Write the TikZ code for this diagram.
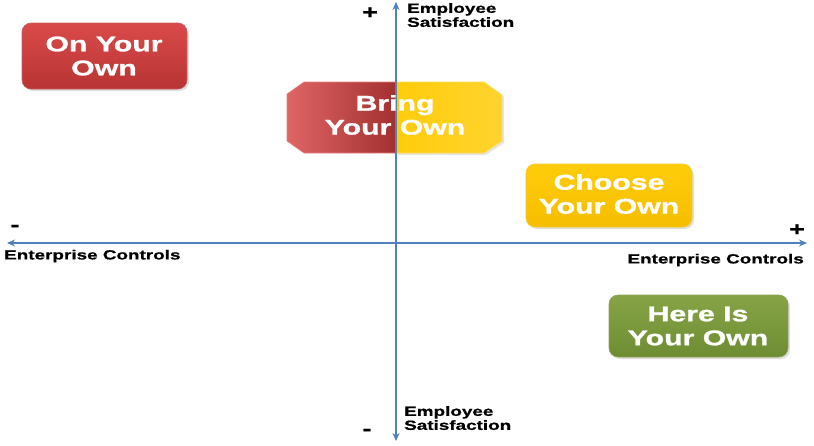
\documentclass[tikz,border=0pt]{standalone}
\usepackage{fontspec}
\newfontfamily\widefont{Liberation Sans}[FakeStretch=1.42,FakeBold=1.2]
\newfontfamily\labelfont{Liberation Sans}[FakeStretch=1.42,FakeBold=0.8]
\definecolor{axisblue}{HTML}{4F81BD}
\definecolor{redtop}{HTML}{DA4A4A}
\definecolor{redbot}{HTML}{B83434}
\definecolor{reddark}{HTML}{A33030}
\definecolor{yeltop}{HTML}{FFCC0A}
\definecolor{yelbot}{HTML}{F5BE00}
\definecolor{grntop}{HTML}{86A446}
\definecolor{grnbot}{HTML}{6E8C32}
\usetikzlibrary{arrows.meta}
\tikzset{
  axis/.style={draw=axisblue, line width=1.6pt, {Stealth[length=8pt,width=7pt]}-{Stealth[length=8pt,width=7pt]}},
  boxtext/.style={text=white, align=center, font=\widefont\bfseries\fontsize{21.3}{24}\selectfont, inner sep=0pt},
  axlabel/.style={text=black, font=\labelfont\bfseries\fontsize{13.3}{14}\selectfont, inner sep=0pt},
  signlabel/.style={text=black, font=\widefont\bfseries\fontsize{19}{19}\selectfont, inner sep=0pt},
  roundbox/.style={rounded corners=9pt, draw=#1, line width=0.6pt},
}
\begin{document}
\begin{tikzpicture}[x=1pt,y=-1pt]
\useasboundingbox (0,0) rectangle (814,445);
% shadows
\fill[black!12, rounded corners=9pt] (24,26) rectangle (189,91);
\fill[black!12, rounded corners=9pt] (528,167) rectangle (694,229);
\fill[black!12, rounded corners=9pt] (611,298) rectangle (790,359);
% On Your Own
\shade[top color=redtop, bottom color=redbot, roundbox=redbot!80!white] (22,23) rectangle (187,89);
% Choose Your Own
\shade[top color=yeltop, bottom color=yelbot, roundbox=yelbot!85!white] (526,164) rectangle (692,227);
% Here Is Your Own
\shade[top color=grntop, bottom color=grnbot, roundbox=grnbot!80!white] (609,295) rectangle (788,357);
% Bring Your Own octagon
\fill[black!10] (306,155) -- (398,155) -- (398,84) -- (486,84) -- (504,97) -- (504,143) -- (486,155) -- cycle;
\shade[left color=redtop!85!white, right color=reddark, draw=redtop!70!white, line width=0.6pt]
  (396,82) -- (304,82) -- (287,94) -- (287,141) -- (304,153) -- (396,153) -- cycle;
\shade[left color=yeltop, right color=yeltop!85!white, draw=yeltop!70!white, line width=0.6pt]
  (396,82) -- (484,82) -- (502,95) -- (502,141) -- (484,153) -- (396,153) -- cycle;
% axes
\coordinate (top) at (396,2);
\coordinate (bot) at (396,441);
\coordinate (lft) at (7,243);
\coordinate (rgt) at (807,243);
\draw[axis] (bot) -- (top);
\draw[axis] (lft) -- (rgt);
% box texts
\node[boxtext] (own) at (104,56) {On Your\\Own};
\node[boxtext] (bring) at (395,115) {Bring\\Your Own};
\node[boxtext] (choose) at (609,194) {Choose\\Your Own};
\node[boxtext] (here) at (698,326) {Here Is\\Your Own};
% axis labels
\node[signlabel] (plustop) at (370,13) {+};
\node[axlabel, anchor=north west, align=left] (estop) at (407,3) {Employee\\Satisfaction};
\node[signlabel] (minusleft) at (15,228) {-};
\node[axlabel, anchor=west] (ecleft) at (4,256) {Enterprise Controls};
\node[signlabel] (plusright) at (797,230) {+};
\node[axlabel, anchor=east] (ecright) at (804,260) {Enterprise Controls};
\node[axlabel, anchor=north west, align=left] (esbot) at (404,406) {Employee\\Satisfaction};
\node[signlabel] (minusbot) at (367,432) {-};
\end{tikzpicture}
\end{document}
